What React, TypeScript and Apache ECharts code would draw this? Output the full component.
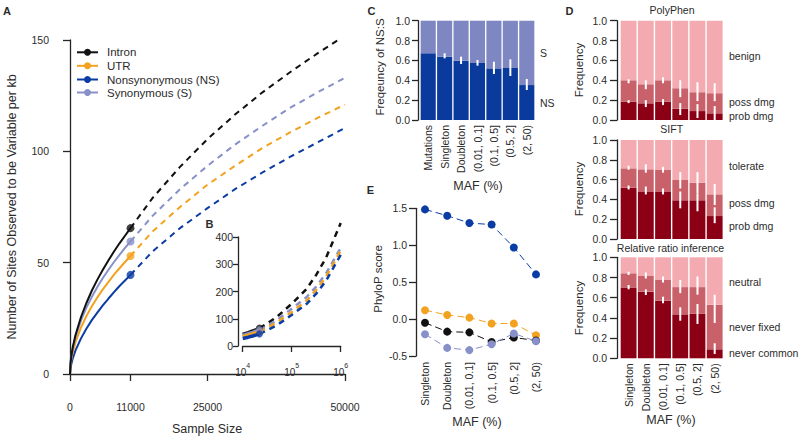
import React, { useEffect, useRef } from "react";
import * as echarts from "echarts";

// ---------- Panel A : sites observed to be variable per kb vs sample size ----------
const sampleSizeObserved = [0, 100, 250, 500, 1000, 2000, 3000, 4000, 5000, 6000, 7000, 8000, 9000, 10000, 11000];
const intronObserved = [0, 4.9, 8.2, 12, 17.5, 25.6, 32, 37.6, 42.5, 46.9, 51.1, 55, 58.7, 62.1, 65.5];
const synObserved = [0, 4.9, 8, 11.6, 16.7, 24.1, 29.9, 34.8, 39.2, 43.2, 46.8, 50.3, 53.5, 56.6, 59.5];
const utrObserved = [0, 4.1, 6.7, 9.8, 14.3, 20.9, 26.1, 30.5, 34.5, 38.1, 41.4, 44.6, 47.5, 50.3, 53];
const nsObserved = [0, 2.7, 4.6, 7, 10.6, 16, 20.4, 24.3, 27.7, 30.9, 33.9, 36.8, 39.5, 42, 44.5];

const sampleSizeProjected = [11000, 15000, 20000, 25000, 30000, 35000, 40000, 45000, 50000];
const intronProjected = [65.5, 79, 93, 105.5, 116.5, 126.5, 135.5, 144, 152];
const synProjected = [59.5, 71, 83, 93.5, 103, 111.5, 119.5, 126.5, 133];
const utrProjected = [53, 64, 75, 85, 93.5, 101.5, 108.5, 115, 121];
const nsProjected = [44.5, 55, 65.5, 74.5, 83, 90.5, 97.5, 104, 110.5];

const aXTicks = [0, 11000, 25000, 50000];

// ---------- Panel B : log-scale inset (chromosomes) ----------
const bChromObserved = [10000, 13000, 16000, 19000, 22000];
const bIntronObserved = [42.5, 49, 55, 60.5, 65.5];
const bSynObserved = [39.2, 45, 50.3, 55, 59.5];
const bUtrObserved = [34.5, 39.8, 44.6, 49, 53];
const bNsObserved = [27.7, 32.4, 36.8, 40.8, 44.5];

const bChromProjected = [22000, 30000, 50000, 100000, 200000, 316228, 500000, 1000000];
const bIntronProjected = [65.5, 80, 107, 155, 209, 261, 323, 451];
const bSynProjected = [59.5, 72, 95, 137, 179, 218, 266, 360];
const bUtrProjected = [53, 65, 87, 125, 166, 206, 254, 350];
const bNsProjected = [44.5, 56, 76, 114, 154, 192, 239, 334];

// ---------- Panel C : frequency of NS:S ----------
const cCategories = ["Mutations", "Singleton", "Doubleton", "(0.01, 0.1]", "(0.1, 0.5]", "(0.5, 2]", "(2, 50)"];
const cNsFraction = [0.672, 0.638, 0.597, 0.574, 0.52, 0.524, 0.352];
const cErrLow = [null, 0.621, 0.564, 0.547, 0.463, 0.443, 0.302];
const cErrHigh = [null, 0.672, 0.638, 0.604, 0.587, 0.611, 0.413];

// ---------- Panel E : PhyloP score ----------
const mafCategories = ["Singleton", "Doubleton", "(0.01, 0.1]", "(0.1, 0.5]", "(0.5, 2]", "(2, 50)"];
const phyloNs = [1.485, 1.4, 1.3, 1.28, 0.97, 0.605];
const phyloUtr = [0.12, 0.055, 0.02, -0.06, -0.06, -0.22];
const phyloIntron = [-0.05, -0.17, -0.18, -0.31, -0.25, -0.29];
const phyloSyn = [-0.205, -0.39, -0.42, -0.34, -0.195, -0.3];

// ---------- Panel D : PolyPhen / SIFT / Relative ratio inference ----------
const polyProbTop = [0.185, 0.168, 0.185, 0.114, 0.09, 0.067];
const polyPossTop = [0.4, 0.36, 0.4, 0.32, 0.28, 0.27];
const polyPossErrLow = [0.37, 0.31, 0.37, 0.23, 0.19, 0.19];
const polyPossErrHigh = [0.41, 0.4, 0.43, 0.4, 0.38, 0.37];
const polyProbErrLow = [0.17, 0.13, 0.15, 0.05, 0.02, 0.0];
const polyProbErrHigh = [0.2, 0.2, 0.21, 0.17, 0.16, 0.14];

const siftProbTop = [0.518, 0.475, 0.475, 0.391, 0.391, 0.232];
const siftPossTop = [0.714, 0.704, 0.697, 0.596, 0.569, 0.451];
const siftPossErrLow = [0.7, 0.67, 0.67, 0.51, 0.46, 0.343];
const siftPossErrHigh = [0.74, 0.755, 0.73, 0.675, 0.675, 0.556];
const siftProbErrLow = [0.5, 0.45, 0.45, 0.31, 0.28, 0.16];
const siftProbErrHigh = [0.54, 0.53, 0.51, 0.48, 0.46, 0.32];

const rriCommonTop = [0.7, 0.66, 0.57, 0.435, 0.44, 0.089];
const rriFixedTop = [0.842, 0.815, 0.775, 0.705, 0.705, 0.53];
const rriFixedErrLow = [0.825, 0.79, 0.75, 0.645, 0.63, 0.35];
const rriFixedErrHigh = [0.857, 0.85, 0.81, 0.775, 0.81, 0.63];
const rriCommonErrLow = [0.683, 0.627, 0.545, 0.372, 0.34, 0.043];
const rriCommonErrHigh = [0.726, 0.683, 0.61, 0.505, 0.538, 0.149];

// ---------- styling ----------
const FONT = '"Liberation Sans", Arial, Helvetica, sans-serif';
const TXT = "#2b2b2b";
const AX = "#262626";
const C_INTRON = "#111111";
const C_UTR = "#f2a21e";
const C_NS = "#0b3ca4";
const C_SYN = "#8890c9";
const C_NS_BAR = "#0a3a9c";
const C_SYN_BAR = "#7e87c1";
const D_DARK = "#8c0015";
const D_MID = "#c9616b";
const D_LIGHT = "#f3abb1";

const zip = (xs: number[], ys: number[]) => xs.map((x, i) => [x, ys[i]]);
const diff = (a: number[], b: number[]) => a.map((v, i) => +(v - b[i]).toFixed(4));
const rest = (a: number[]) => a.map((v) => +(1 - v).toFixed(4));
const last = (a: number[]) => a[a.length - 1];

function valueY(grid: number, min: number, max: number, interval: number, offset: number, margin: number, decimals: number | null, tick = 6) {
  return {
    type: "value",
    gridIndex: grid,
    min,
    max,
    interval,
    offset,
    axisLine: { show: true, lineStyle: { color: AX, width: 1.3 } },
    axisTick: { show: true, length: tick, lineStyle: { color: AX, width: 1.3 } },
    axisLabel: {
      fontSize: 10.5,
      color: TXT,
      fontFamily: FONT,
      margin,
      formatter: (v: number) => (decimals == null ? String(v) : v.toFixed(decimals)),
    },
    splitLine: { show: false },
  };
}

function catX(grid: number, cats: string[], showLabels: boolean, boundaryGap = true, margin = 5) {
  return {
    type: "category",
    gridIndex: grid,
    data: cats,
    boundaryGap,
    axisLine: { show: false },
    axisTick: { show: false },
    axisLabel: { show: showLabels, rotate: 90, interval: 0, margin, fontSize: 10.5, color: TXT, fontFamily: FONT },
    splitLine: { show: false },
  };
}

function errSeries(xi: number, yi: number, lo: (number | null)[], hi: (number | null)[]) {
  return {
    type: "custom",
    xAxisIndex: xi,
    yAxisIndex: yi,
    z: 5,
    silent: true,
    encode: { x: 0, y: [1, 2] },
    renderItem: (_p: any, api: any) => {
      const a = api.coord([api.value(0), api.value(1)]);
      const b = api.coord([api.value(0), api.value(2)]);
      return {
        type: "line",
        shape: { x1: a[0], y1: a[1], x2: b[0], y2: b[1] },
        style: { stroke: "#ffffff", lineWidth: 2 },
      };
    },
    data: lo.map((v, i) => (v == null ? null : [i, v, hi[i]])).filter((d) => d != null),
  };
}

function barSeries(xi: number, yi: number, stack: string, data: number[], color: string, gap = "8%") {
  return {
    type: "bar",
    xAxisIndex: xi,
    yAxisIndex: yi,
    stack,
    data,
    barCategoryGap: gap,
    itemStyle: { color },
    silent: true,
  };
}

function lineSeries(xi: number, yi: number, data: number[][], color: string, dashed: boolean, width: number, clip = true) {
  return {
    type: "line",
    xAxisIndex: xi,
    yAxisIndex: yi,
    data,
    showSymbol: false,
    symbol: "none",
    clip,
    lineStyle: { color, width, type: dashed ? [6, 5] : "solid" },
    silent: true,
  };
}

function dotSeries(xi: number, yi: number, data: number[][], color: string, size: number) {
  return {
    type: "scatter",
    xAxisIndex: xi,
    yAxisIndex: yi,
    data,
    symbol: "circle",
    symbolSize: size,
    itemStyle: { color },
    z: 4,
    silent: true,
  };
}

function phyloSeries(data: number[], color: string) {
  return {
    type: "line",
    xAxisIndex: 3,
    yAxisIndex: 3,
    data,
    symbol: "circle",
    symbolSize: 8,
    showSymbol: true,
    itemStyle: { color },
    lineStyle: { color, width: 1, type: [7, 4] },
    silent: true,
  };
}

function txt(text: string, x: number, y: number, opts: any = {}) {
  return {
    type: "text",
    x,
    y,
    rotation: opts.rotate ? Math.PI / 2 : 0,
    silent: true,
    style: {
      text,
      fill: TXT,
      fontSize: opts.size ?? 10.5,
      fontFamily: FONT,
      fontWeight: opts.bold ? "bold" : "normal",
      align: opts.align ?? "center",
      verticalAlign: "middle",
    },
  };
}

function legendItem(label: string, color: string, y: number) {
  return [
    { type: "line", silent: true, shape: { x1: 77, y1: y, x2: 98, y2: y }, style: { stroke: color, lineWidth: 2 } },
    { type: "circle", silent: true, shape: { cx: 87.5, cy: y, r: 3.5 }, style: { fill: color } },
    txt(label, 107, y, { size: 11.5, align: "left" }),
  ];
}

export default function App() {
  const ref = useRef<HTMLDivElement>(null);

  useEffect(() => {
    if (!ref.current) return;
    const chart = echarts.init(ref.current, undefined, { renderer: "svg" });

    const grids = [
      { left: 70, top: 40, width: 275, height: 334 }, // A
      { left: 242.7, top: 237, width: 98, height: 109 }, // B
      { left: 420, top: 20.7, width: 115, height: 99.3 }, // C
      { left: 425, top: 208.3, width: 111, height: 147.7 }, // E
      { left: 620, top: 20.7, width: 103.3, height: 99.3 }, // D PolyPhen
      { left: 620, top: 140, width: 103.3, height: 99 }, // D SIFT
      { left: 620, top: 257.3, width: 103.3, height: 101 }, // D RRI
    ];

    const xAxes: any[] = [
      {
        type: "value",
        gridIndex: 0,
        min: 0,
        max: 50000,
        offset: 14,
        axisLine: { show: true, lineStyle: { color: AX, width: 1.3 } },
        axisTick: { show: true, length: 7, customValues: aXTicks, lineStyle: { color: AX, width: 1.3 } },
        axisLabel: {
          customValues: aXTicks,
          fontSize: 10.5,
          color: TXT,
          fontFamily: FONT,
          margin: 13,
          formatter: (v: number) => String(v),
        },
        splitLine: { show: false },
      },
      {
        type: "log",
        logBase: 10,
        gridIndex: 1,
        min: 10000,
        max: 1000000,
        offset: 6,
        axisLine: { show: true, lineStyle: { color: AX, width: 1.3 } },
        axisTick: { show: true, length: 6, lineStyle: { color: AX, width: 1.3 } },
        axisLabel: {
          color: TXT,
          fontFamily: FONT,
          margin: 10,
          formatter: (v: number) => `{b|10}{e|${Math.round(Math.log10(v))}}`,
          rich: {
            b: { fontSize: 10, fontFamily: FONT, color: TXT, lineHeight: 15, verticalAlign: "bottom" },
            e: { fontSize: 7, fontFamily: FONT, color: TXT, lineHeight: 9, verticalAlign: "top" },
          },
        },
        splitLine: { show: false },
      },
      catX(2, cCategories, true, true, 5),
      catX(3, mafCategories, true, false, 6),
      catX(4, mafCategories, false),
      catX(5, mafCategories, false),
      catX(6, mafCategories, true, true, 5),
    ];

    const yAxes: any[] = [
      valueY(0, 0, 150, 50, 11, 10, null, 7),
      valueY(1, 0, 400, 100, 4.7, 5, null, 5),
      valueY(2, 0, 1, 0.2, 2, 8, 1),
      valueY(3, -0.5, 1.5, 0.5, 9, 9, 1, 7),
      valueY(4, 0, 1, 0.2, 3, 10, 1, 7),
      valueY(5, 0, 1, 0.2, 3, 10, 1, 7),
      valueY(6, 0, 1, 0.2, 3, 10, 1, 7),
    ];

    const aEnd = last(sampleSizeObserved);
    const bEnd = last(bChromObserved);

    const series: any[] = [
      // A
      lineSeries(0, 0, zip(sampleSizeObserved, nsObserved), C_NS, false, 2),
      lineSeries(0, 0, zip(sampleSizeObserved, utrObserved), C_UTR, false, 2),
      lineSeries(0, 0, zip(sampleSizeObserved, synObserved), C_SYN, false, 2),
      lineSeries(0, 0, zip(sampleSizeObserved, intronObserved), C_INTRON, false, 2),
      lineSeries(0, 0, zip(sampleSizeProjected, nsProjected), C_NS, true, 2),
      lineSeries(0, 0, zip(sampleSizeProjected, utrProjected), C_UTR, true, 2),
      lineSeries(0, 0, zip(sampleSizeProjected, synProjected), C_SYN, true, 2),
      lineSeries(0, 0, zip(sampleSizeProjected, intronProjected), C_INTRON, true, 2),
      dotSeries(0, 0, [[aEnd, last(nsObserved)]], C_NS, 8),
      dotSeries(0, 0, [[aEnd, last(utrObserved)]], C_UTR, 8),
      dotSeries(0, 0, [[aEnd, last(synObserved)]], C_SYN, 8),
      dotSeries(0, 0, [[aEnd, last(intronObserved)]], C_INTRON, 8),
      // B
      lineSeries(1, 1, zip(bChromObserved, bIntronObserved), C_INTRON, false, 3.5, false),
      lineSeries(1, 1, zip(bChromObserved, bSynObserved), C_SYN, false, 3.5, false),
      lineSeries(1, 1, zip(bChromObserved, bUtrObserved), C_UTR, false, 3.5, false),
      lineSeries(1, 1, zip(bChromObserved, bNsObserved), C_NS, false, 3.5, false),
      lineSeries(1, 1, zip(bChromProjected, bIntronProjected), C_INTRON, true, 2.5, false),
      lineSeries(1, 1, zip(bChromProjected, bSynProjected), C_SYN, true, 2.5, false),
      lineSeries(1, 1, zip(bChromProjected, bUtrProjected), C_UTR, true, 2.5, false),
      lineSeries(1, 1, zip(bChromProjected, bNsProjected), C_NS, true, 2.5, false),
      dotSeries(1, 1, [[bEnd, last(bIntronObserved)]], C_INTRON, 7),
      dotSeries(1, 1, [[bEnd, last(bUtrObserved)]], C_UTR, 7),
      dotSeries(1, 1, [[bEnd, last(bSynObserved)]], C_SYN, 7),
      dotSeries(1, 1, [[bEnd, last(bNsObserved)]], C_NS, 7),
      // C
      barSeries(2, 2, "c", cNsFraction, C_NS_BAR),
      barSeries(2, 2, "c", rest(cNsFraction), C_SYN_BAR),
      errSeries(2, 2, cErrLow, cErrHigh),
      // E
      phyloSeries(phyloNs, C_NS),
      phyloSeries(phyloUtr, C_UTR),
      phyloSeries(phyloIntron, C_INTRON),
      phyloSeries(phyloSyn, C_SYN),
      // D PolyPhen
      barSeries(4, 4, "p", polyProbTop, D_DARK),
      barSeries(4, 4, "p", diff(polyPossTop, polyProbTop), D_MID),
      barSeries(4, 4, "p", rest(polyPossTop), D_LIGHT),
      errSeries(4, 4, polyPossErrLow, polyPossErrHigh),
      errSeries(4, 4, polyProbErrLow, polyProbErrHigh),
      // D SIFT
      barSeries(5, 5, "s", siftProbTop, D_DARK),
      barSeries(5, 5, "s", diff(siftPossTop, siftProbTop), D_MID),
      barSeries(5, 5, "s", rest(siftPossTop), D_LIGHT),
      errSeries(5, 5, siftPossErrLow, siftPossErrHigh),
      errSeries(5, 5, siftProbErrLow, siftProbErrHigh),
      // D Relative ratio inference
      barSeries(6, 6, "r", rriCommonTop, D_DARK),
      barSeries(6, 6, "r", diff(rriFixedTop, rriCommonTop), D_MID),
      barSeries(6, 6, "r", rest(rriFixedTop), D_LIGHT),
      errSeries(6, 6, rriFixedErrLow, rriFixedErrHigh),
      errSeries(6, 6, rriCommonErrLow, rriCommonErrHigh),
    ];

    const graphic: any[] = [
      // panel letters
      txt("A", 7, 10.5, { bold: true, size: 11 }),
      txt("B", 209.5, 223.5, { bold: true, size: 11 }),
      txt("C", 371.5, 10.5, { bold: true, size: 11 }),
      txt("D", 569.5, 10.5, { bold: true, size: 11 }),
      txt("E", 370.5, 190, { bold: true, size: 11 }),
      // A legend
      ...legendItem("Intron", C_INTRON, 52.3),
      ...legendItem("UTR", C_UTR, 65.8),
      ...legendItem("Nonsynonymous (NS)", C_NS, 79.5),
      ...legendItem("Synonymous (S)", C_SYN, 92.5),
      // axis titles
      txt("Number of Sites Observed to be Variable per kb", 12, 207, { rotate: true, size: 12.5 }),
      txt("Sample Size", 207, 429, { size: 12.5 }),
      txt("Freqeuncy of NS:S", 380, 67, { rotate: true, size: 11.5 }),
      txt("MAF (%)", 478, 186, { size: 12.5 }),
      txt("PhyloP score", 378, 279, { rotate: true, size: 11.5 }),
      txt("MAF (%)", 477, 422, { size: 12.5 }),
      txt("Frequency", 579, 70, { rotate: true, size: 11.5 }),
      txt("Frequency", 579, 189, { rotate: true, size: 11.5 }),
      txt("Frequency", 579, 308, { rotate: true, size: 11.5 }),
      txt("MAF (%)", 671, 420, { size: 12.5 }),
      // C side labels
      txt("S", 540, 53, { align: "left" }),
      txt("NS", 540, 103.3, { align: "left" }),
      // D titles
      txt("PolyPhen", 672, 10),
      txt("SIFT", 671.7, 129),
      txt("Relative ratio inference", 670.5, 247.7),
      // D side labels
      txt("benign", 729, 55.7, { align: "left" }),
      txt("poss dmg", 729, 101.7, { align: "left" }),
      txt("prob dmg", 729, 116, { align: "left" }),
      txt("tolerate", 729, 166, { align: "left" }),
      txt("poss dmg", 729, 203.3, { align: "left" }),
      txt("prob dmg", 729, 226, { align: "left" }),
      txt("neutral", 729, 281.7, { align: "left" }),
      txt("never fixed", 729, 326.7, { align: "left" }),
      txt("never common", 729, 352.7, { align: "left" }),
    ];

    chart.setOption({
      animation: false,
      backgroundColor: "#ffffff",
      textStyle: { fontFamily: FONT, color: TXT },
      grid: grids,
      xAxis: xAxes,
      yAxis: yAxes,
      series,
      graphic,
    });

    return () => chart.dispose();
  }, []);

  return (
    <div
      ref={ref}
      style={{ position: "fixed", left: 0, top: 0, width: 800, height: 439, background: "#fff" }}
    />
  );
}
